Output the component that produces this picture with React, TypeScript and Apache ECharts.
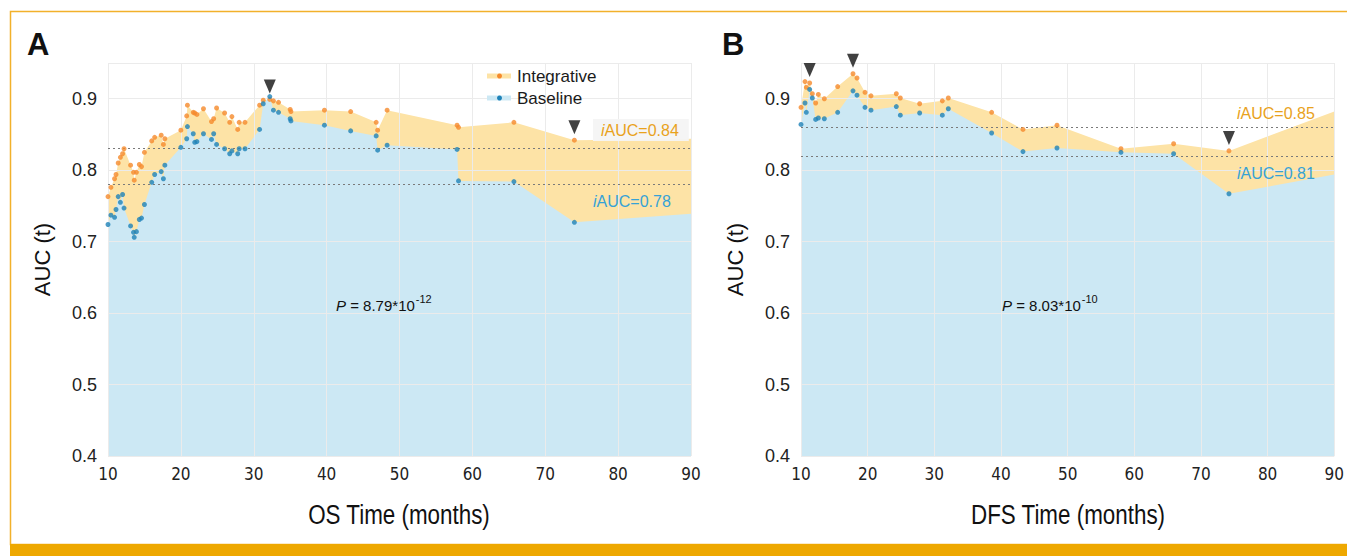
import React, { useEffect, useRef } from 'react';
import * as echarts from 'echarts';

// ---------- Panel A: OS ----------
const osTime = [10.0, 10.4, 10.9, 11.1, 11.4, 11.7, 12.0, 12.2, 13.1, 13.5, 13.6, 13.9, 14.3, 14.6, 15.0, 16.0, 16.4, 17.3, 17.6, 17.8, 20.0, 20.8, 20.9, 21.7, 21.9, 22.2, 23.1, 24.2, 24.5, 24.9, 26.0, 26.7, 27.0, 27.8, 28.0, 28.8, 30.8, 31.3, 32.2, 32.7, 33.4, 35.0, 35.1, 39.7, 43.3, 46.8, 47.0, 48.3, 57.9, 58.1, 65.7, 74.0];
const osIntegrative = [0.763, 0.776, 0.788, 0.794, 0.810, 0.818, 0.823, 0.830, 0.807, 0.797, 0.786, 0.797, 0.808, 0.805, 0.825, 0.841, 0.846, 0.849, 0.836, 0.844, 0.856, 0.876, 0.891, 0.881, 0.880, 0.878, 0.886, 0.868, 0.872, 0.887, 0.880, 0.867, 0.875, 0.857, 0.867, 0.867, 0.891, 0.898, 0.899, 0.897, 0.895, 0.885, 0.882, 0.884, 0.882, 0.867, 0.856, 0.884, 0.863, 0.860, 0.867, 0.842];
const osBaseline = [0.724, 0.737, 0.734, 0.745, 0.763, 0.755, 0.766, 0.747, 0.722, 0.713, 0.706, 0.714, 0.731, 0.733, 0.752, 0.783, 0.794, 0.798, 0.788, 0.807, 0.832, 0.844, 0.861, 0.851, 0.839, 0.840, 0.851, 0.843, 0.851, 0.836, 0.830, 0.823, 0.827, 0.823, 0.830, 0.830, 0.857, 0.893, 0.903, 0.884, 0.881, 0.872, 0.869, 0.863, 0.855, 0.848, 0.828, 0.835, 0.829, 0.785, 0.784, 0.727];
const osEnd = [90, 0.844, 0.739]; // time, integrative, baseline at right edge
const osMarkers = [[32.2, 0.899], [74.0, 0.842]];
const osIAUC = [0.835, 0.777];
const osIAUCText = ['0.84', '0.78'];
const osP = ['8.79*10', '-12'];

// ---------- Panel B: DFS ----------
const dfsTime = [10.0, 10.6, 10.8, 11.3, 11.7, 12.2, 12.6, 13.5, 15.5, 17.8, 18.4, 19.6, 20.5, 24.3, 24.9, 27.8, 31.2, 32.1, 38.6, 43.3, 48.4, 58.0, 65.9, 74.2];
const dfsIntegrative = [0.888, 0.924, 0.916, 0.922, 0.907, 0.894, 0.906, 0.900, 0.917, 0.935, 0.929, 0.909, 0.904, 0.907, 0.901, 0.893, 0.897, 0.901, 0.881, 0.857, 0.863, 0.830, 0.837, 0.827];
const dfsBaseline = [0.864, 0.894, 0.881, 0.913, 0.901, 0.871, 0.873, 0.872, 0.881, 0.911, 0.905, 0.888, 0.884, 0.889, 0.877, 0.880, 0.877, 0.886, 0.852, 0.826, 0.831, 0.825, 0.823, 0.767];
const dfsEnd = [90, 0.882, 0.794];
const dfsMarkers = [[11.3, 0.922], [17.8, 0.935], [74.2, 0.827]];
const dfsIAUC = [0.858, 0.817];
const dfsIAUCText = ['0.85', '0.81'];
const dfsP = ['8.03*10', '-10'];

const xTicks = { min: 10, max: 90, interval: 10 };
const yTicks = { min: 0.4, max: 0.95, interval: 0.1 };
const xAxisNames = ['OS Time (months)', 'DFS Time (months)'];

const ORANGE_FILL = '#FDE3A6';
const BLUE_FILL = '#CCE8F4';
const ORANGE_DOT = '#F58A2C';
const BLUE_DOT = '#1E82B8';
const ORANGE_TXT = '#E9A21C';
const BLUE_TXT = '#36A2D6';
const NARROW = '"DejaVu Sans Condensed", "Liberation Sans", Arial, sans-serif';
const SANS = '"Liberation Sans", Arial, Helvetica, sans-serif';

function measure(text: string, font: string) {
  const c = document.createElement('canvas').getContext('2d');
  if (!c) return text.length * 7;
  c.font = font;
  return c.measureText(text).width;
}

export default function App() {
  const ref = useRef<HTMLDivElement>(null);
  useEffect(() => {
    document.body.style.margin = '0';
    if (!ref.current) return;
    const chart = echarts.init(ref.current, undefined, { renderer: 'svg' });

    const grids = [
      { left: 108, top: 63, width: 583, height: 393 },
      { left: 801, top: 63, width: 534, height: 393 },
    ];

    const xAxes = grids.map((_, i) => ({
      type: 'value', gridIndex: i, ...xTicks, z: 3,
      axisLine: { show: false }, axisTick: { show: false },
      axisLabel: { fontFamily: NARROW, fontSize: 17, color: '#222', margin: 9 },
      splitLine: { show: true, lineStyle: { color: '#ebebeb', width: 1 } },
    }));
    const yAxes = grids.map((_, i) => ({
      type: 'value', gridIndex: i, ...yTicks, z: 3,
      name: 'AUC (t)', nameLocation: 'middle', nameGap: 55,
      nameTextStyle: { fontFamily: SANS, fontSize: 22, color: '#111' },
      axisLine: { show: false }, axisTick: { show: false },
      axisLabel: {
        fontFamily: SANS, fontSize: 18, color: '#222', margin: 11,
        formatter: (v: number) => (v > 0.9001 ? '' : v.toFixed(1)),
      },
      splitLine: { show: true, lineStyle: { color: '#ebebeb', width: 1 } },
    }));

    const panels = [
      { t: osTime, a: osIntegrative, b: osBaseline, end: osEnd, mk: osMarkers, iauc: osIAUC },
      { t: dfsTime, a: dfsIntegrative, b: dfsBaseline, end: dfsEnd, mk: dfsMarkers, iauc: dfsIAUC },
    ];

    const series: any[] = [];
    panels.forEach((p, i) => {
      const areaA = p.t.map((t, k) => [t, p.a[k]]).concat([[p.end[0], p.end[1]]]);
      const areaB = p.t.map((t, k) => [t, p.b[k]]).concat([[p.end[0], p.end[2]]]);
      series.push({
        type: 'line', name: 'Integrative', xAxisIndex: i, yAxisIndex: i, data: areaA,
        showSymbol: false, symbol: 'none', z: 1, lineStyle: { width: 0, opacity: 0 },
        areaStyle: { color: ORANGE_FILL, opacity: 1 }, silent: true,
      });
      series.push({
        type: 'line', name: 'Baseline', xAxisIndex: i, yAxisIndex: i, data: areaB,
        showSymbol: false, symbol: 'none', z: 2, lineStyle: { width: 0, opacity: 0 },
        areaStyle: { color: BLUE_FILL, opacity: 1 }, silent: true,
      });
      series.push({
        type: 'line', xAxisIndex: i, yAxisIndex: i, data: [], z: 5, silent: true,
        markLine: {
          silent: true, symbol: 'none', label: { show: false },
          lineStyle: { color: '#7a7a7a', type: [2, 3], width: 1.2 },
          data: p.iauc.map((v) => ({ yAxis: v })),
        },
      });
      series.push({
        type: 'scatter', xAxisIndex: i, yAxisIndex: i, z: 6, symbolSize: 5, clip: false,
        itemStyle: { color: ORANGE_DOT }, data: p.t.map((t, k) => [t, p.a[k]]),
      });
      series.push({
        type: 'scatter', xAxisIndex: i, yAxisIndex: i, z: 7, symbolSize: 5, clip: false,
        itemStyle: { color: BLUE_DOT }, data: p.t.map((t, k) => [t, p.b[k]]),
      });
      series.push({
        type: 'scatter', xAxisIndex: i, yAxisIndex: i, z: 8, clip: false,
        symbol: 'path://M0,0 L10,0 L5,12 Z', symbolSize: [12, 14], symbolOffset: [0, -13],
        itemStyle: { color: '#111' }, data: p.mk,
      });
    });

    const iText = (x: number, y: number, val: string, color: string, bg?: boolean) => ({
      type: 'text', x, y, z: 20,
      style: {
        text: '{i|i}{t|AUC=' + val + '}',
        rich: {
          i: { fontStyle: 'italic', fontFamily: SANS, fontSize: 16, fill: color, color },
          t: { fontFamily: SANS, fontSize: 16, fill: color, color },
        },
        textAlign: 'left', textVerticalAlign: 'middle',
        ...(bg ? { backgroundColor: 'rgba(244,244,244,0.95)', padding: [3, 10, 3, 8] } : {}),
      },
    });

    const pFont = '15px ' + SANS;
    const pText = (x: number, y: number, v: string[]) => {
      const w = measure('P = ' + v[0], pFont);
      return [
        {
          type: 'text', x, y, z: 20,
          style: {
            text: '{i|P}{t| = ' + v[0] + '}',
            rich: {
              i: { fontStyle: 'italic', fontFamily: SANS, fontSize: 15, fill: '#111', color: '#111' },
              t: { fontFamily: SANS, fontSize: 15, fill: '#111', color: '#111' },
            },
            textAlign: 'left', textVerticalAlign: 'middle',
          },
        },
        {
          type: 'text', x: x + w + 1, y: y - 6, z: 20,
          style: { text: v[1], font: '11px ' + SANS, fill: '#111', textAlign: 'left', textVerticalAlign: 'middle' },
        },
      ];
    };

    const legendRow = (y: number, name: string, fill: string, dot: string) => [
      { type: 'line', z: 20, shape: { x1: 487, y1: y, x2: 511, y2: y }, style: { stroke: fill, lineWidth: 5 } },
      { type: 'circle', z: 21, shape: { cx: 499.5, cy: y, r: 2.5 }, style: { fill: dot } },
      { type: 'text', z: 21, x: 517, y, style: { text: name, font: '17px ' + SANS, fill: '#1a1a1a', textAlign: 'left', textVerticalAlign: 'middle' } },
    ];

    const axisTitle = (cx: number, text: string) => ({
      type: 'text', x: cx, y: 514, scaleX: 0.8, z: 20,
      style: { text, font: '28px ' + SANS, fill: '#111', textAlign: 'center', textVerticalAlign: 'middle' },
    });

    const graphic: any[] = [
      { type: 'rect', z: 0, silent: true, shape: { x: 10.5, y: 11.5, width: 1345, height: 533 }, style: { fill: 'none', stroke: '#F2B12B', lineWidth: 1.5 } },
      { type: 'rect', z: 1, silent: true, shape: { x: 10, y: 544, width: 1337, height: 12 }, style: { fill: '#EEA800' } },
      { type: 'text', x: 27, y: 44, style: { text: 'A', font: 'bold 31px ' + SANS, fill: '#111', textAlign: 'left', textVerticalAlign: 'middle' } },
      { type: 'text', x: 722, y: 44, style: { text: 'B', font: 'bold 31px ' + SANS, fill: '#111', textAlign: 'left', textVerticalAlign: 'middle' } },
      axisTitle(399, xAxisNames[0]),
      axisTitle(1068, xAxisNames[1]),
      ...legendRow(76, 'Integrative', ORANGE_FILL, ORANGE_DOT),
      ...legendRow(98, 'Baseline', BLUE_FILL, BLUE_DOT),
      iText(593, 130, osIAUCText[0], ORANGE_TXT, true),
      iText(593, 201, osIAUCText[1], BLUE_TXT),
      iText(1237, 113, dfsIAUCText[0], ORANGE_TXT),
      iText(1237, 173, dfsIAUCText[1], BLUE_TXT),
      ...pText(336, 305, osP),
      ...pText(1002, 305, dfsP),
    ];

    chart.setOption({
      animation: false,
      backgroundColor: '#ffffff',
      grid: grids,
      xAxis: xAxes,
      yAxis: yAxes,
      series,
      graphic,
    });
    return () => chart.dispose();
  }, []);
  return <div ref={ref} style={{ width: 1347, height: 556 }} />;
}
